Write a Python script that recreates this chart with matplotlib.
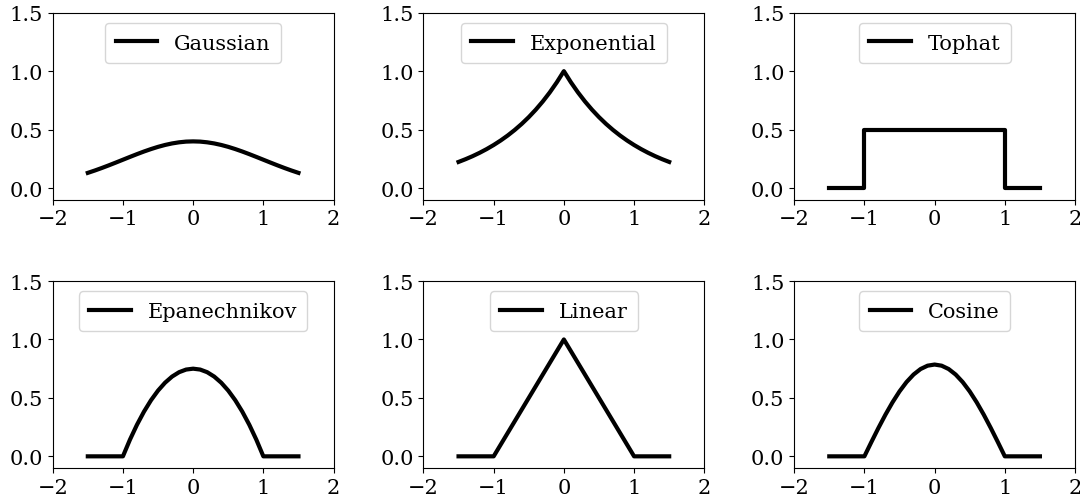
import matplotlib
matplotlib.use("Agg")
import matplotlib.pyplot as plt

plt.rcParams['font.family'] = ['DejaVu Serif']

titles = ["Gaussian", "Exponential", "Tophat", "Epanechnikov", "Linear", "Cosine"]

x_smooth = [-1.5, -1.4, -1.3, -1.2, -1.1, -1.0, -0.9, -0.8, -0.7, -0.6, -0.5, -0.4, -0.3, -0.2, -0.1,
            0.0, 0.1, 0.2, 0.3, 0.4, 0.5, 0.6, 0.7, 0.8, 0.9, 1.0, 1.1, 1.2, 1.3, 1.4, 1.5]

y_gaussian = [0.1295, 0.1497, 0.1714, 0.1942, 0.2179, 0.2420, 0.2661, 0.2897, 0.3123, 0.3332, 0.3521,
              0.3683, 0.3814, 0.3910, 0.3970, 0.3989, 0.3970, 0.3910, 0.3814, 0.3683, 0.3521, 0.3332,
              0.3123, 0.2897, 0.2661, 0.2420, 0.2179, 0.1942, 0.1714, 0.1497, 0.1295]

y_exponential = [0.2231, 0.2466, 0.2725, 0.3012, 0.3329, 0.3679, 0.4066, 0.4493, 0.4966, 0.5488, 0.6065,
                 0.6703, 0.7408, 0.8187, 0.9048, 1.0000, 0.9048, 0.8187, 0.7408, 0.6703, 0.6065, 0.5488,
                 0.4966, 0.4493, 0.4066, 0.3679, 0.3329, 0.3012, 0.2725, 0.2466, 0.2231]

x_tophat = [-1.5, -1.0, -1.0, 1.0, 1.0, 1.5]
y_tophat = [0.0, 0.0, 0.5, 0.5, 0.0, 0.0]

x_compact = [-1.5, -1.0, -0.9, -0.8, -0.7, -0.6, -0.5, -0.4, -0.3, -0.2, -0.1,
             0.0, 0.1, 0.2, 0.3, 0.4, 0.5, 0.6, 0.7, 0.8, 0.9, 1.0, 1.5]

y_epanechnikov = [0.0, 0.0, 0.1425, 0.27, 0.3825, 0.48, 0.5625, 0.63, 0.6825, 0.72, 0.7425,
                  0.75, 0.7425, 0.72, 0.6825, 0.63, 0.5625, 0.48, 0.3825, 0.27, 0.1425, 0.0, 0.0]

x_linear = [-1.5, -1.0, 0.0, 1.0, 1.5]
y_linear = [0.0, 0.0, 1.0, 0.0, 0.0]

y_cosine = [0.0, 0.0, 0.1229, 0.2427, 0.3566, 0.4616, 0.5554, 0.6354, 0.6998, 0.7470, 0.7757,
            0.7854, 0.7757, 0.7470, 0.6998, 0.6354, 0.5554, 0.4616, 0.3566, 0.2427, 0.1229, 0.0, 0.0]

series = [
    (x_smooth, y_gaussian),
    (x_smooth, y_exponential),
    (x_tophat, y_tophat),
    (x_compact, y_epanechnikov),
    (x_linear, y_linear),
    (x_compact, y_cosine),
]

xticks = [-2, -1, 0, 1, 2]
yticks = [0.0, 0.5, 1.0, 1.5]

fig, axes = plt.subplots(2, 3, figsize=(10.8, 5.02), dpi=100)
fig.subplots_adjust(left=0.0488, right=0.9954, top=0.9727, bottom=0.0657, wspace=0.32, hspace=0.435)

for ax, title, (xs, ys) in zip(axes.flat, titles, series):
    ax.plot(xs, ys, color='black', lw=3, label=title)
    ax.set_xlim(-2, 2)
    ax.set_ylim(-0.1, 1.5)
    ax.set_xticks(xticks)
    ax.set_yticks(yticks)
    ax.tick_params(labelsize=15)
    ax.legend(loc='upper center', fontsize=15, borderpad=0.5)

fig.savefig("out.png", dpi=100)
